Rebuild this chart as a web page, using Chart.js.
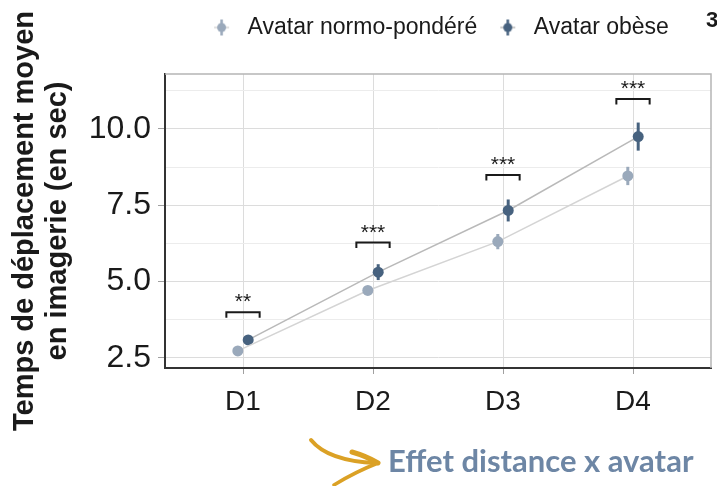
<!DOCTYPE html>
<html>
<head>
<meta charset="utf-8">
<script src="https://cdn.jsdelivr.net/npm/chart.js@4.4.1/dist/chart.umd.min.js"></script>
<style>
  body { margin: 0; background: #fff; }
</style>
</head>
<body>
<canvas id="chart" width="717" height="486"></canvas>
<script>
const distances = ['D1', 'D2', 'D3', 'D4'];
const normoMeans = [2.73, 4.71, 6.31, 8.46];
const normoErrors = [0.08, 0.10, 0.25, 0.30];
const obeseMeans = [3.09, 5.31, 7.33, 9.75];
const obeseErrors = [0.10, 0.26, 0.36, 0.46];
const yTicks = [2.5, 3.75, 5, 6.25, 7.5, 8.75, 10, 11.25];
const bracketLevels = [4.0, 6.28, 8.49, 10.98];
const stars = ['**', '***', '***', '***'];

const normoColor = '#9aa9bb';
const obeseColor = '#47627f';
const dodge = 0.04;

const ctx = document.querySelector('#chart').getContext('2d');

// little pointrange glyph for the legend
function legendKey(color, lineColor) {
    const c = document.createElement('canvas');
    c.width = 29;
    c.height = 24;
    const g = c.getContext('2d');
    g.strokeStyle = lineColor;
    g.lineWidth = 1.5;
    g.beginPath(); g.moveTo(7, 12); g.lineTo(22, 12); g.stroke();
    g.strokeStyle = color;
    g.lineWidth = 2.5;
    g.beginPath(); g.moveTo(14.5, 4); g.lineTo(14.5, 20); g.stroke();
    g.fillStyle = color;
    g.beginPath(); g.arc(14.5, 12, 4.5, 0, Math.PI * 2); g.fill();
    return c;
}
const legendKeys = [legendKey(normoColor, '#d4d4d4'), legendKey(obeseColor, '#b9b9b9')];

const legendGap = {
    id: 'legendGap',
    beforeInit(chart) {
        const fit = chart.legend.fit;
        chart.legend.fit = function () {
            fit.call(this);
            this.height = 74;
        };
    }
};

const extras = {
    id: 'extras',
    beforeDatasetsDraw(chart) {
        const {ctx, chartArea: a} = chart;
        ctx.save();
        ctx.strokeStyle = '#b5b5b5';
        ctx.lineWidth = 1.5;
        ctx.beginPath();
        ctx.moveTo(a.left, a.top);
        ctx.lineTo(a.right, a.top);
        ctx.lineTo(a.right, a.bottom);
        ctx.stroke();
        ctx.restore();
    },
    afterDatasetsDraw(chart) {
        const {ctx, scales: {x, y}} = chart;
        ctx.save();
        ctx.lineWidth = 3;
        [[normoMeans, normoErrors, normoColor, -dodge], [obeseMeans, obeseErrors, obeseColor, dodge]].forEach(([m, e, col, d]) => {
            ctx.strokeStyle = col;
            m.forEach((v, i) => {
                const px = x.getPixelForValue(i + 1 + d);
                ctx.beginPath();
                ctx.moveTo(px, y.getPixelForValue(v - e[i]));
                ctx.lineTo(px, y.getPixelForValue(v + e[i]));
                ctx.stroke();
            });
        });
        ctx.restore();
    },
    afterDraw(chart) {
        const {ctx, scales: {x, y}} = chart;
        ctx.save();
        // significance brackets
        ctx.strokeStyle = '#1a1a1a';
        ctx.lineWidth = 2;
        ctx.fillStyle = '#1a1a1a';
        ctx.font = '21px "Liberation Sans", Arial, sans-serif';
        ctx.textAlign = 'center';
        ctx.textBaseline = 'alphabetic';
        bracketLevels.forEach((lvl, i) => {
            const x0 = x.getPixelForValue(i + 1 - 0.128);
            const x1 = x.getPixelForValue(i + 1 + 0.128);
            const py = y.getPixelForValue(lvl);
            const leg = y.getPixelForValue(lvl - 0.18);
            ctx.beginPath();
            ctx.moveTo(x0, leg);
            ctx.lineTo(x0, py);
            ctx.lineTo(x1, py);
            ctx.lineTo(x1, leg);
            ctx.stroke();
            ctx.fillText(stars[i], x.getPixelForValue(i + 1), py - 4);
        });

        // annotation under the chart
        ctx.strokeStyle = '#dba125';
        ctx.lineCap = 'round';
        ctx.lineWidth = 4;
        ctx.beginPath();
        ctx.moveTo(311, 440);
        ctx.quadraticCurveTo(328, 461, 376, 463);
        ctx.stroke();
        ctx.lineWidth = 5;
        ctx.beginPath();
        ctx.moveTo(352, 452);
        ctx.quadraticCurveTo(366, 456, 378, 463);
        ctx.stroke();
        ctx.lineWidth = 3.5;
        ctx.beginPath();
        ctx.moveTo(378, 463);
        ctx.quadraticCurveTo(355, 472, 334, 485);
        ctx.stroke();

        ctx.fillStyle = '#6d86a5';
        ctx.font = 'bold 31px Lato, sans-serif';
        ctx.textAlign = 'left';
        ctx.fillText('Effet distance x avatar', 388, 472);

        ctx.fillStyle = '#1a1a1a';
        ctx.font = 'bold 22px "Liberation Sans", Arial, sans-serif';
        ctx.fillText('3', 706, 27);
        ctx.restore();
    }
};

const chart = new Chart(ctx, {
    type: 'line',
    data: {
        datasets: [{
            label: 'Avatar normo-pondéré',
            data: normoMeans.map((v, i) => ({x: i + 1 - dodge, y: v})),
            borderColor: '#d4d4d4',
            borderWidth: 1.5,
            backgroundColor: normoColor,
            pointBackgroundColor: normoColor,
            pointBorderWidth: 0,
            pointRadius: 5.5
        }, {
            label: 'Avatar obèse',
            data: obeseMeans.map((v, i) => ({x: i + 1 + dodge, y: v})),
            borderColor: '#b9b9b9',
            borderWidth: 1.5,
            backgroundColor: obeseColor,
            pointBackgroundColor: obeseColor,
            pointBorderWidth: 0,
            pointRadius: 5.5
        }]
    },
    options: {
        responsive: false,
        animation: false,
        layout: {
            padding: {left: 0, right: 6, top: 0, bottom: 0}
        },
        scales: {
            x: {
                type: 'linear',
                min: 0.4,
                max: 4.6,
                afterBuildTicks: s => { s.ticks = distances.map((d, i) => ({value: i + 1})); },
                afterFit: s => { s.height = 118; },
                ticks: {
                    autoSkip: false,
                    maxRotation: 0,
                    padding: 11,
                    color: '#1a1a1a',
                    font: {family: '"Liberation Sans", Arial, sans-serif', size: 28},
                    callback: v => distances[v - 1]
                },
                grid: {
                    color: '#dcdcdc',
                    tickLength: 6,
                    tickColor: '#a0a0a0'
                },
                border: {color: '#333', width: 2}
            },
            y: {
                type: 'linear',
                min: 2.17,
                max: 11.8,
                afterBuildTicks: s => { s.ticks = yTicks.map(v => ({value: v})); },
                afterFit: s => { s.width = 165; },
                ticks: {
                    autoSkip: false,
                    padding: 7,
                    color: '#1a1a1a',
                    font: {family: '"Liberation Sans", Arial, sans-serif', size: 32},
                    callback: v => (v % 2.5 === 0 ? v.toFixed(1) : '')
                },
                grid: {
                    color: c => (c.tick && c.tick.value % 2.5 === 0 ? '#dcdcdc' : '#ececec'),
                    tickLength: 7,
                    tickColor: c => (c.tick && c.tick.value % 2.5 === 0 ? '#a0a0a0' : 'rgba(0,0,0,0)')
                },
                border: {color: '#333', width: 2},
                title: {
                    display: true,
                    text: ['Temps de déplacement moyen', 'en imagerie (en sec)'],
                    color: '#1a1a1a',
                    padding: {top: 8, bottom: 0},
                    font: {family: '"Liberation Sans", Arial, sans-serif', size: 29, weight: 'bold', lineHeight: 1.14}
                }
            }
        },
        plugins: {
            legend: {
                position: 'top',
                fullSize: false,
                labels: {
                    usePointStyle: true,
                    pointStyleWidth: 29,
                    padding: 16,
                    color: '#1a1a1a',
                    font: {family: '"Liberation Sans", Arial, sans-serif', size: 23},
                    generateLabels: c => {
                        const items = Chart.defaults.plugins.legend.labels.generateLabels(c);
                        items.sort((a, b) => a.datasetIndex - b.datasetIndex);
                        items.forEach(it => { it.pointStyle = legendKeys[it.datasetIndex]; });
                        return items;
                    }
                }
            },
            tooltip: {enabled: false}
        }
    },
    plugins: [legendGap, extras]
});
</script>
</body>
</html>
